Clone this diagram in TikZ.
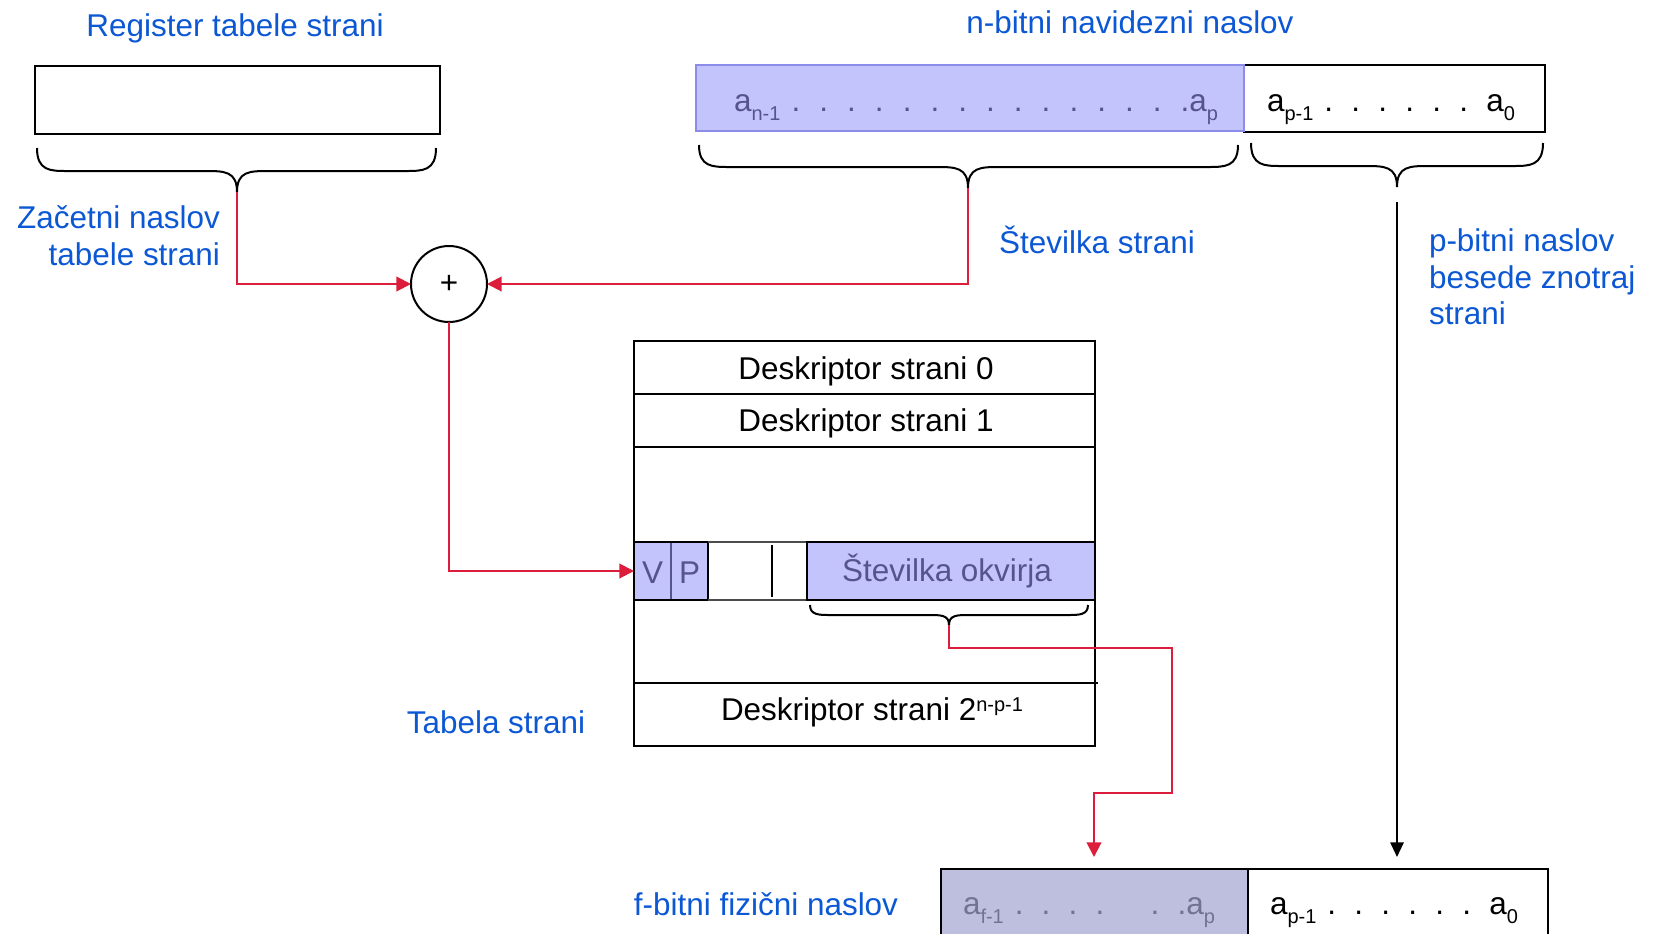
\documentclass[tikz,border=0pt]{standalone}
\usepackage{fontspec}
\setmainfont{Liberation Sans}
\usetikzlibrary{arrows.meta,fit}
\definecolor{lblue}{RGB}{12,88,212}
\definecolor{lred}{RGB}{220,30,60}
\definecolor{lav}{RGB}{196,196,252}
\definecolor{lavedge}{RGB}{140,140,235}
\definecolor{lavtext}{RGB}{85,85,140}
\definecolor{grayfill}{RGB}{190,190,222}
\definecolor{graytext}{RGB}{115,115,145}
\newcommand{\lowsub}[1]{\raisebox{-0.3em}{\fontsize{15}{15}\selectfont #1}}
\newcommand{\highsup}[1]{\raisebox{0.27em}{\fontsize{15}{15}\selectfont #1}}
% name, x0, x1, top, flat, xtip, ytip, end radius, tip half width
\newcommand{\mybrace}[9]{%
  \draw[bracel] (#2,#4) .. controls (#2,#5) and ({#2+0.45*#8},#5) .. ({#2+#8},#5)
    -- ({#6-#9},#5) .. controls ({#6-0.4*#9},#5) and (#6,#5) .. (#6,#7) coordinate (#1)
    .. controls (#6,#5) and ({#6+0.4*#9},#5) .. ({#6+#9},#5)
    -- ({#3-#8},#5) .. controls ({#3-0.45*#8},#5) and (#3,#5) .. (#3,#4);}
\begin{document}
\begin{tikzpicture}[x=0.75pt,y=-0.75pt,
  every node/.style={font=\fontsize{23.6}{27.5}\selectfont, inner sep=0pt, outer sep=0pt},
  lbl/.style={text=lblue},
  boxline/.style={draw=black, line width=1.5pt},
  redarrow/.style={draw=lred, line width=1.5pt, -{Triangle[length=11pt,width=11pt]}},
  blackarrow/.style={draw=black, line width=1.5pt, -{Triangle[length=11pt,width=10pt]}},
  bracel/.style={draw=black, line width=1.5pt},
  thincell/.style={draw=black!70, line width=0.8pt}]
\useasboundingbox (0,0) rectangle (1656,933);
\begin{scope}
\clip (0,0) rectangle (1656,933);

% titles and labels
\node[lbl] (regtitle) at (235,28) {Register tabele strani};
\node[lbl] (vtitle) at (1130,22) {n-bitni navidezni naslov};
\node[lbl, anchor=east, align=right] (zac) at (220,236) {Začetni naslov\\tabele strani};
\node[lbl] (stst) at (1097,240) {Številka strani};
\node[lbl, anchor=west, align=left, font=\fontsize{23.6}{27.4}\selectfont] (pbit) at (1429,277) {p-bitni naslov\\besede znotraj\\strani};
\node[lbl] (tab) at (496,722) {Tabela strani};
\node[lbl] (fbit) at (766,904) {f-bitni fizični naslov};

% register
\node[boxline, fit={(35,66) (440,134)}] (reg) {};
\mybrace{b1}{37}{436}{148}{171}{237}{192}{30}{32}

% virtual address
\node[boxline, fit={(1244,65) (1545,132)}] (off) {};
\node[fill=lav, draw=lavedge, line width=1.5pt, fit={(696,65) (1244,131)}] (vpn) {};
\node[anchor=base west, text=lavtext] (vpntext) at (734,111)
  {\makebox[363pt][s]{a\lowsub{n-1} . . . . . . . . . . . . . . .a\lowsub{p}}};
\node[anchor=base west] (offtext) at (1267,111)
  {\makebox[186pt][s]{a\lowsub{p-1} . . . . . . a\lowsub{0}}};
\mybrace{b2}{699}{1238}{145}{167}{968}{188}{30}{32}
\mybrace{b3}{1251}{1543}{143}{166}{1397}{187}{30}{32}

% adder
\node[draw, circle, line width=1.5pt, minimum size=57pt] (adder) at (449,284) {+};

% page table
\node[fit={(634,341) (1095,746)}] (pt) {};
\node[fit={(634,341) (1095,394)}] (d0) {};
\node (d0t) at (866,371) {Deskriptor strani 0};
\draw[boxline] (d0.south west) -- (d0.south east);
\node[fit={(634,394) (1095,447)}] (d1) {};
\node (d1t) at (866,423) {Deskriptor strani 1};
\draw[boxline] (d1.south west) -- (d1.south east);
\node[fill=lav, fit={(634,542) (671,600)}] (V) {};
\node[fill=lav, fit={(671,542) (708,600)}] (P) {};
\node[text=lavtext] (Vt) at (652.5,573) {V};
\node[text=lavtext] (Pt) at (689.5,573) {P};
\draw[draw=lavtext, line width=0.8pt] (V.north east) -- (V.south east);
\draw[boxline] (V.north west) rectangle (P.south east);
\node[fit={(708,542) (807,600)}] (W) {};
\draw[thincell] (W.north west) -- (W.north east);
\draw[thincell] (W.south west) -- (W.south east);
\draw[boxline] (772,545) -- (772,597);
\node[boxline, fill=lav, fit={(807,542) (1095,600)}] (F) {};
\node[text=lavtext] (Ft) at (947,571) {Številka okvirja};
\node[fit={(634,683) (1095,746)}] (dn) {};
\node (dnt) at (872,712) {Deskriptor strani 2\highsup{n-p-1}};
\draw[boxline] (634,683) -- (1098,683);
\draw[boxline] (pt.north west) rectangle (pt.south east);
\mybrace{b4}{810}{1088}{605}{615}{949}{625}{20}{20}

% physical address
\node[boxline, fill=grayfill, fit={(941,869) (1248,960)}] (pfn) {};
\node[boxline, fit={(1248,869) (1548,960)}] (poff) {};
\node[anchor=base west, text=graytext] (pfntext) at (963,914)
  {\makebox[189pt][s]{a\lowsub{f-1} . . . .\hspace{0.9em} . .a\lowsub{p}}};
\node[anchor=base west] (pofftext) at (1270,914)
  {\makebox[186pt][s]{a\lowsub{p-1} . . . . . . a\lowsub{0}}};

% connectors
\coordinate (k1) at (1172,648);
\coordinate (k2) at (1094,793);
\coordinate (e1) at (1094,857);
\coordinate (s2) at (1397,202);
\coordinate (e2) at (1397,857);
\draw[redarrow] (b1) |- (adder.west);
\draw[redarrow] (b2) |- (adder.east);
\draw[redarrow] (adder.south) |- (V.west);
\draw[redarrow] (b4) |- (k1) |- (k2) -- (e1);
\draw[blackarrow] (s2) -- (e2);
\end{scope}
\end{tikzpicture}
\end{document}
